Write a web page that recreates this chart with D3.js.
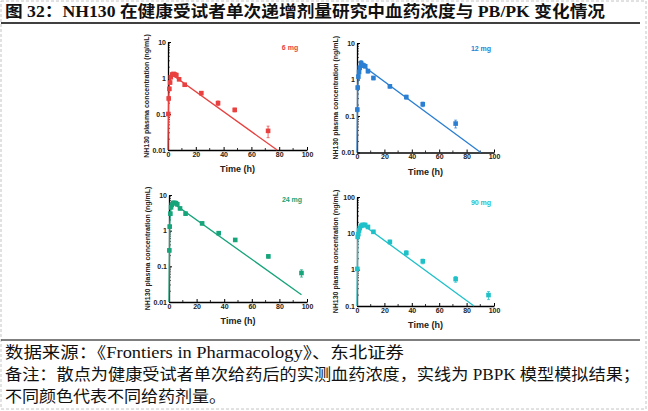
<!DOCTYPE html>
<html>
<head>
<meta charset="utf-8">
<script src="https://cdn.jsdelivr.net/npm/d3@7"></script>
<style>
  body { margin: 0; background: #fff; }
  svg { display: block; }
</style>
</head>
<body>
<script>
// ━━━━━━━━━━━━━━━━━━━━━━━━━━━━━━━━━━━━━━━━━━━━━━━━━━━━━━━━━━━━━━━━━━━━━━━━━
// Datos ////////////////////////////////////////////////
// ━━━━━━━━━━━━━━━━━━━━━━━━━━━━━━━━━━━━━━━━━━━━━━━━━━━━━━━━━━━━━━━━━━━━━━━━━

const doses = ['6 mg', '12 mg', '24 mg', '90 mg'];
const xTicks = [0, 20, 40, 60, 80, 100];

// observed (mean, sd)
const t_6mg = [0.25, 0.5, 1, 1.5, 2, 3, 4, 5, 6, 8, 12, 24, 36, 48, 72];
const c_6mg = [0.1, 0.27, 0.5, 0.75, 1.05, 1.25, 1.3, 1.25, 1.2, 0.92, 0.65, 0.38, 0.2, 0.13, 0.034];
const e_6mg = [0.01, 0.04, 0.06, 0.08, 0.1, 0.15, 0.12, 0.1, 0.1, 0.08, 0.06, 0.04, 0.03, 0.015, 0.012];

const t_12mg = [0.25, 0.5, 1, 1.5, 2, 3, 4, 5, 6, 8, 12, 24, 36, 48, 72];
const c_12mg = [0.15, 0.6, 1.2, 1.6, 2.1, 2.8, 2.5, 2.4, 2.3, 1.7, 1.1, 0.65, 0.33, 0.21, 0.062];
const e_12mg = [0.02, 0.08, 0.15, 0.2, 0.3, 0.5, 0.3, 0.25, 0.2, 0.2, 0.12, 0.07, 0.04, 0.03, 0.015];

const t_24mg = [0.25, 0.5, 1, 1.5, 2, 3, 4, 5, 6, 8, 12, 24, 36, 48, 72, 96];
const c_24mg = [0.28, 1.3, 3.0, 4.5, 5.3, 6.0, 6.0, 5.9, 5.5, 4.2, 3.0, 1.6, 0.85, 0.55, 0.19, 0.065];
const e_24mg = [0.03, 0.15, 0.3, 0.4, 0.5, 0.6, 0.6, 0.5, 0.5, 0.4, 0.3, 0.15, 0.08, 0.05, 0.02, 0.015];

const t_90mg = [0.25, 0.5, 1, 1.5, 2, 3, 4, 5, 6, 8, 12, 24, 36, 48, 72, 96];
const c_90mg = [1.05, 8, 9.5, 12, 14, 16, 17, 17, 17, 15, 11, 5.8, 2.9, 1.7, 0.55, 0.2];
const e_90mg = [0.1, 0.8, 1, 1.2, 1.4, 1.6, 1.7, 1.7, 1.7, 1.5, 1.1, 0.7, 0.4, 0.25, 0.1, 0.05];

// PBPK simulated curves
const fit_t_6mg  = [0, 0.5, 1, 2, 3, 4, 78.5];
const fit_c_6mg  = [0.01, 0.3, 0.65, 1.0, 1.12, 1.15, 0.01];
const fit_t_12mg = [0, 0.5, 1, 2, 3, 90.3];
const fit_c_12mg = [0.01, 0.7, 1.5, 2.3, 2.6, 0.01];
const fit_t_24mg = [0, 0.5, 1, 2, 3, 4, 96];
const fit_c_24mg = [0.01, 1.5, 3.2, 5.0, 5.5, 5.5, 0.016];
const fit_t_90mg = [0, 0.5, 1, 2, 3, 5, 85.4];
const fit_c_90mg = [0.1, 6, 10, 14, 16, 16.5, 0.1];

const yDomain_low  = [0.01, 10];
const yDomain_high = [0.1, 100];

const colors = ['#e8413f', '#2b7fd3', '#16a47a', '#1fc1c9'];

const titleText = '图 32：NH130 在健康受试者单次递增剂量研究中血药浓度与 PB/PK 变化情况';
const footLines = [
  '数据来源：《Frontiers in Pharmacology》、东北证券',
  '备注：散点为健康受试者单次给药后的实测血药浓度，实线为 PBPK 模型模拟结果；',
  '不同颜色代表不同给药剂量。'
];

// ━━━━━━━━━━━━━━━━━━━━━━━━━━━━━━━━━━━━━━━━━━━━━━━━━━━━━━━━━━━━━━━━━━━━━━━━━
// SVG setup //////////////////////////////////////////////////////////////////
// ━━━━━━━━━━━━━━━━━━━━━━━━━━━━━━━━━━━━━━━━━━━━━━━━━━━━━━━━━━━━━━━━━━━━━━━━━

const width = 648, height = 411;
const cjkSerif = '"Liberation Serif", "Noto Sans CJK SC", serif';
const sans = '"Liberation Sans", Arial, sans-serif';

const svg = d3.select('body').append('svg')
  .attr('width', width)
  .attr('height', height)
  .attr('viewBox', [0, 0, width, height]);

const frame  = svg.append('g').attr('id', 'frame');
const charts = svg.append('g').attr('id', 'charts');
const notes  = svg.append('g').attr('id', 'notes');

frame.append('rect')
  .attr('x', 1).attr('y', 1).attr('width', width - 3).attr('height', height - 3)
  .attr('fill', '#fff').attr('stroke', '#c4c4c4').attr('stroke-dasharray', '3,2');

frame.append('line').attr('x1', 1).attr('x2', 640).attr('y1', 23).attr('y2', 23)
  .attr('stroke', '#000').attr('stroke-width', 1.5);
frame.append('line').attr('x1', 1).attr('x2', 640).attr('y1', 340).attr('y2', 340)
  .attr('stroke', '#000').attr('stroke-width', 1.2);

frame.append('text')
  .attr('x', 5).attr('y', 17)
  .attr('font-family', cjkSerif).attr('font-weight', 'bold').attr('font-size', 16)
  .attr('textLength', 600).attr('lengthAdjust', 'spacingAndGlyphs')
  .attr('fill', '#111')
  .text(titleText);

// footer
const footY = [358, 380, 402];
const footW = [399, 635, 221];
notes.selectAll('text')
  .data(footLines)
  .join('text')
  .attr('x', 5)
  .attr('y', (d, i) => footY[i])
  .attr('textLength', (d, i) => footW[i])
  .attr('lengthAdjust', 'spacingAndGlyphs')
  .attr('font-family', cjkSerif).attr('font-size', 16)
  .attr('fill', '#111')
  .text(d => d);

// ━━━━━━━━━━━━━━━━━━━━━━━━━━━━━━━━━━━━━━━━━━━━━━━━━━━━━━━━━━━━━━━━━━━━━━━━━
// Paneles ////////////////////////////////////////////////////////////////////
// ━━━━━━━━━━━━━━━━━━━━━━━━━━━━━━━━━━━━━━━━━━━━━━━━━━━━━━━━━━━━━━━━━━━━━━━━━

const series = [
  { t: t_6mg,  c: c_6mg,  e: e_6mg,  ft: fit_t_6mg,  fc: fit_c_6mg,  dom: yDomain_low },
  { t: t_12mg, c: c_12mg, e: e_12mg, ft: fit_t_12mg, fc: fit_c_12mg, dom: yDomain_low },
  { t: t_24mg, c: c_24mg, e: e_24mg, ft: fit_t_24mg, fc: fit_c_24mg, dom: yDomain_low },
  { t: t_90mg, c: c_90mg, e: e_90mg, ft: fit_t_90mg, fc: fit_c_90mg, dom: yDomain_high }
];

// plot boxes: [left, right, top, bottom]
const boxes = [
  [168, 307, 42, 150],
  [357, 494, 43, 152.5],
  [169, 307, 195, 302],
  [357, 494, 197, 306]
];
const labelPos = [[290, 50], [481, 51], [292, 202], [481, 205]];

series.forEach((s, i) => {
  const [x0, x1, y0, y1] = boxes[i];
  const col = colors[i];
  const g = charts.append('g').attr('id', 'panel-' + i);

  const x = d3.scaleLinear().domain([0, 100]).range([x0, x1]);
  const y = d3.scaleLog().domain(s.dom).range([y1, y0]);

  // minor ticks
  const xMinor = d3.range(10, 100, 20);
  g.append('g').selectAll('line').data(xMinor).join('line')
    .attr('x1', d => x(d)).attr('x2', d => x(d))
    .attr('y1', y1).attr('y2', y1 - 2)
    .attr('stroke', '#000').attr('stroke-width', 0.8);

  const yMinor = y.ticks().filter(d => {
    const m = d / Math.pow(10, Math.floor(Math.log10(d) + 1e-9));
    return Math.abs(m - 1) > 1e-6;
  });
  g.append('g').selectAll('line').data(yMinor).join('line')
    .attr('x1', x0).attr('x2', x0 + 2)
    .attr('y1', d => y(d)).attr('y2', d => y(d))
    .attr('stroke', '#000').attr('stroke-width', 0.6);

  // x axis
  const xAxis = g.append('g')
    .attr('transform', `translate(0,${y1})`)
    .call(d3.axisBottom(x).tickValues(xTicks).tickSizeInner(-3).tickSizeOuter(0).tickPadding(2));
  // y axis
  const majors = y.ticks().filter(d => !yMinor.includes(d));
  const yAxis = g.append('g')
    .attr('transform', `translate(${x0},0)`)
    .call(d3.axisLeft(y).tickValues(majors).tickFormat(d3.format('~g')).tickSizeInner(-3).tickSizeOuter(0).tickPadding(2));

  [xAxis, yAxis].forEach(a => {
    a.select('.domain').attr('stroke', '#000').attr('stroke-width', 1.3);
    a.selectAll('.tick line').attr('stroke', '#000').attr('stroke-width', 1);
    a.selectAll('.tick text')
      .attr('font-family', sans).attr('font-weight', 'bold').attr('font-size', 7).attr('fill', '#222');
  });

  // axis titles
  g.append('text')
    .attr('x', (x0 + x1) / 2).attr('y', y1 + 22)
    .attr('text-anchor', 'middle')
    .attr('font-family', sans).attr('font-weight', 'bold').attr('font-size', 9).attr('fill', '#222')
    .text('Time (h)');
  g.append('text')
    .attr('transform', `translate(${x0 - 19},${(y0 + y1) / 2}) rotate(-90)`)
    .attr('text-anchor', 'middle')
    .attr('font-family', sans).attr('font-weight', 'bold').attr('font-size', 7).attr('fill', '#222')
    .text('NH130 plasma concentration (ng/mL)');

  // dose label
  g.append('text')
    .attr('x', labelPos[i][0]).attr('y', labelPos[i][1])
    .attr('text-anchor', 'middle')
    .attr('font-family', sans).attr('font-weight', 'bold').attr('font-size', 7).attr('fill', col)
    .text(doses[i]);

  // PBPK line
  const fit = s.ft.map((t, k) => [t, s.fc[k]]);
  g.append('path')
    .datum(fit)
    .attr('fill', 'none')
    .attr('stroke', col)
    .attr('stroke-width', 1.3)
    .attr('d', d3.line().x(d => x(d[0])).y(d => y(d[1])));

  // observed points with error bars
  const obs = s.t.map((t, k) => ({ t, c: s.c[k], e: s.e[k] }));
  const pts = g.append('g').attr('fill', col).attr('stroke', col);
  pts.selectAll('line.err').data(obs).join('line')
    .attr('class', 'err')
    .attr('x1', d => x(d.t)).attr('x2', d => x(d.t))
    .attr('y1', d => y(d.c + d.e)).attr('y2', d => y(Math.max(d.c - d.e, s.dom[0])))
    .attr('stroke-width', 0.8);
  pts.selectAll('line.cap').data(obs.flatMap(d => [d.c + d.e, Math.max(d.c - d.e, s.dom[0])].map(v => ({ t: d.t, v }))))
    .join('line')
    .attr('class', 'cap')
    .attr('x1', d => x(d.t) - 1.5).attr('x2', d => x(d.t) + 1.5)
    .attr('y1', d => y(d.v)).attr('y2', d => y(d.v))
    .attr('stroke-width', 0.7);
  pts.selectAll('rect').data(obs).join('rect')
    .attr('x', d => x(d.t) - 2.3).attr('y', d => y(d.c) - 2.3)
    .attr('width', 4.6).attr('height', 4.6)
    .attr('stroke', 'none');
});
</script>
</body>
</html>
